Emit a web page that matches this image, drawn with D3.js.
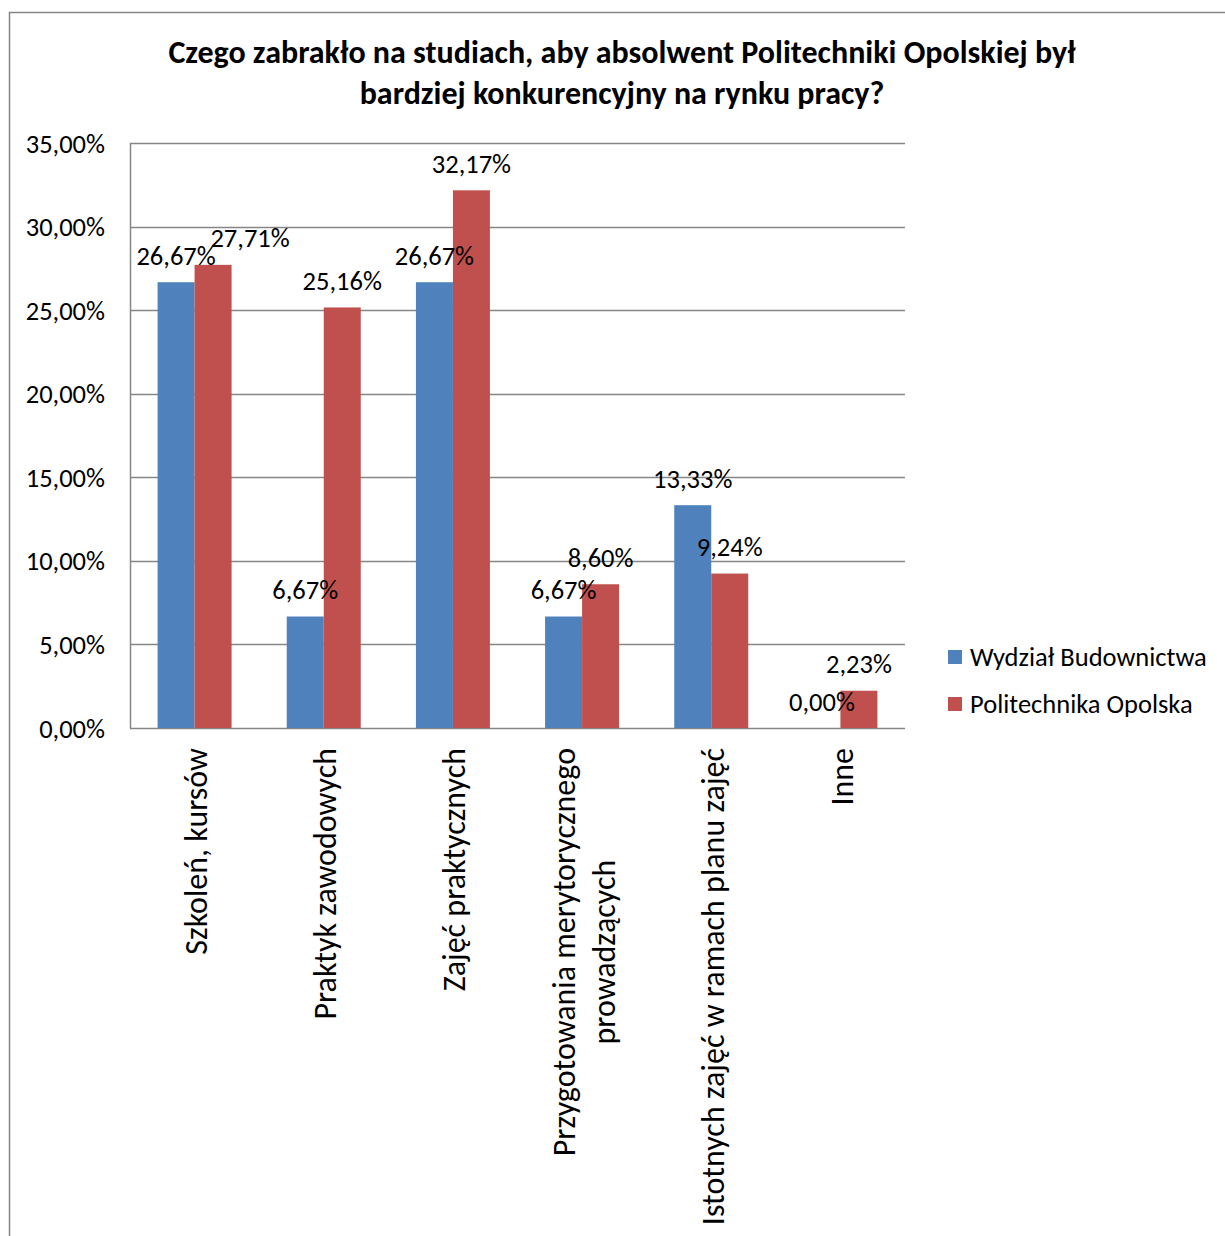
<!DOCTYPE html>
<html><head><meta charset="utf-8">
<script src="https://cdn.jsdelivr.net/npm/d3@7"></script>
<style>
body{margin:0;background:#fff;}
text{font-family:Carlito,Calibri,Lato,sans-serif;fill:#000;}
</style></head>
<body><svg id="c" width="1225" height="1236"></svg>
<script>
const titleLines = ["Czego zabrakło na studiach, aby absolwent Politechniki Opolskiej był","bardziej konkurencyjny na rynku pracy?"];
const categories = [["Szkoleń, kursów"],["Praktyk zawodowych"],["Zajęć praktycznych"],["Przygotowania merytorycznego","prowadzących"],["Istotnych zajęć w ramach planu zajęć"],["Inne"]];
const seriesNames = ["Wydział Budownictwa","Politechnika Opolska"];
const wydzial = [26.67, 6.67, 26.67, 6.67, 13.33, 0.00];
const politechnika = [27.71, 25.16, 32.17, 8.60, 9.24, 2.23];
const yTicks = [0,5,10,15,20,25,30,35];
const colors = ["#4F81BD","#C0504D"];

const fmt = v => v.toFixed(2).replace(".", ",") + "%";
const svg = d3.select("#c");
const L=130,R=905,T=143,B=728;
const fs = 26.5;
const cfs = 32;

svg.append("rect").attr("x",9.5).attr("y",12.5).attr("width",1400).attr("height",1400)
  .attr("fill","none").attr("stroke","#868686").attr("stroke-width",1.5);

svg.selectAll(".title").data(titleLines).join("text")
  .attr("x",622).attr("y",(d,i)=>63+i*41).attr("text-anchor","middle")
  .attr("font-weight","bold").attr("font-size",32).text(d=>d);

const x = d3.scaleBand().domain(d3.range(categories.length)).range([L,R]);
const y = d3.scaleLinear().domain([0,35]).range([B,T]);

// grid
svg.selectAll(".grid").data(yTicks).join("line")
  .attr("x1",L).attr("x2",R).attr("y1",d=>Math.round(y(d))+0.5).attr("y2",d=>Math.round(y(d))+0.5)
  .attr("stroke","#868686").attr("stroke-width",1.5);
svg.append("line").attr("x1",L+0.5).attr("x2",L+0.5).attr("y1",T).attr("y2",B)
  .attr("stroke","#868686").attr("stroke-width",1.5);

svg.selectAll(".ytl").data(yTicks).join("text")
  .attr("x",105).attr("y",d=>y(d)+9.5).attr("text-anchor","end").attr("font-size",fs)
  .text(d=>fmt(d));

const bw = 37;
const series = [wydzial, politechnika];
const barG = svg.append("g"), labG = svg.append("g");
series.forEach((vals,s)=>{
  barG.append("g").selectAll("rect").data(vals).join("rect")
    .attr("x",(d,i)=>x(i)+x.bandwidth()/2-bw+s*bw).attr("width",bw)
    .attr("y",d=>y(d)).attr("height",d=>B-y(d)).attr("fill",colors[s]);
  labG.append("g").selectAll("text").data(vals).join("text")
    .attr("x",(d,i)=>x(i)+x.bandwidth()/2-bw/2+s*bw + (s===1&&i===0?37:0))
    .attr("y",(d,i)=>y(d)-17.5).attr("text-anchor","middle").attr("font-size",fs)
    .text(d=>fmt(d));
});

// category labels
categories.forEach((lines,i)=>{
  const cx = x(i)+x.bandwidth()/2;
  const n = lines.length;
  const texts = lines.map((t,j)=>svg.append("text").attr("font-size",cfs).attr("text-anchor","middle")
     .attr("dominant-baseline","central").text(t));
  const maxL = d3.max(texts,t=>t.node().getComputedTextLength());
  texts.forEach((t,j)=>{
    const px = cx + (j-(n-1)/2)*40 + 2;
    const py = 748 + maxL/2;
    t.attr("transform",`translate(${px},${py}) rotate(-90)`);
  });
});

// legend
seriesNames.forEach((nm,i)=>{
  svg.append("rect").attr("x",948).attr("y",650+i*47).attr("width",14).attr("height",14).attr("fill",colors[i]);
  svg.append("text").attr("x",970).attr("y",665.5+i*47).attr("font-size",fs).text(nm);
});
</script></body></html>
